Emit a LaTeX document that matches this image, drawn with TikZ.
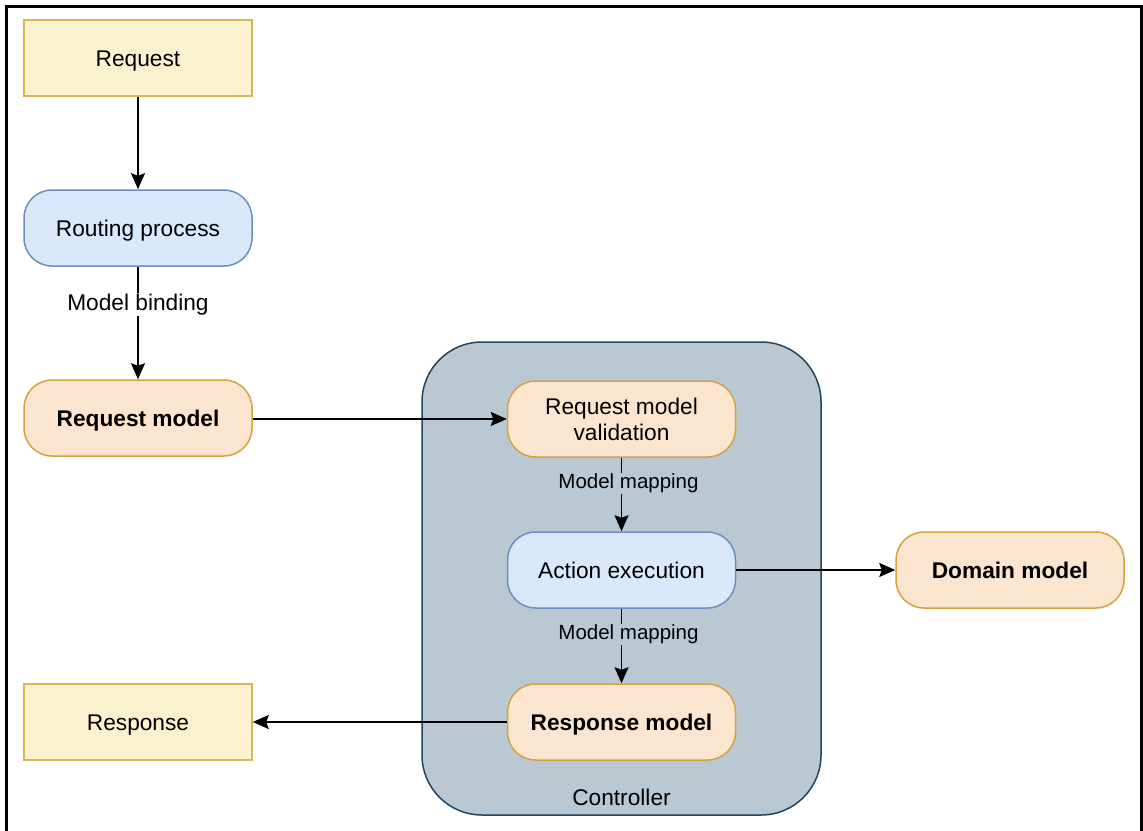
\documentclass[tikz,border=0pt]{standalone}
\usepackage{fontspec}
\setmainfont{Liberation Sans}
\usetikzlibrary{arrows.meta}
\usetikzlibrary{calc}

\definecolor{yellowfill}{HTML}{FCF1CF}
\definecolor{yellowline}{HTML}{D6B656}
\definecolor{bluefill}{HTML}{DAE8FC}
\definecolor{blueline}{HTML}{6C8EBF}
\definecolor{orangefill}{HTML}{FBE5CE}
\definecolor{orangeline}{HTML}{D6A13F}
\definecolor{ctrlfill}{HTML}{BAC8D3}
\definecolor{ctrlline}{HTML}{23445D}

\tikzset{
	box/.style = {draw, line width=1.5pt, minimum width=228pt, minimum height=76pt, align=center,
		font=\fontsize{22.7}{26}\selectfont},
	oneline/.style = {text height=22pt, text depth=5pt},
	plainbox/.style = {box, oneline, fill=yellowfill, draw=yellowline},
	bluebox/.style = {box, oneline, fill=bluefill, draw=blueline, rounded corners=28pt},
	orangebox/.style = {box, fill=orangefill, draw=orangeline, rounded corners=28pt},
	flow/.style = {line width=1.7pt, -{Stealth[length=16pt, width=14pt, inset=2.5pt]}},
	lbl/.style = {font=\fontsize{20.5}{24}\selectfont, inner sep=1pt}
}

\begin{document}
\begin{tikzpicture}[x = 1pt, y = -1pt]
	\useasboundingbox (0, 0) rectangle (1143, 830);
	\draw[line width=3pt] (6, 850) -- (6, 6) -- (1141, 6) -- (1141, 850);

	\node[draw=ctrlline, fill=ctrlfill, line width=1.5pt, rounded corners=60pt,
		minimum width=399pt, minimum height=473pt] (ctrl) at (621.5, 578.5) {};
	\node[font=\fontsize{22.7}{26}\selectfont] (ctrllabel) at (621.5, 797) {Controller};

	\node[plainbox] (request) at (138, 58) {Request};
	\node[bluebox] (routing) at (138, 228) {Routing process};
	\node[orangebox, oneline] (reqmodel) at (138, 418) {\textbf{Request model}};
	\node[orangebox] (validation) at (621.5, 419) {Request model\\validation};
	\node[bluebox] (action) at (621.5, 570) {Action execution};
	\node[orangebox, oneline] (respmodel) at (621.5, 722) {\textbf{Response model}};
	\node[orangebox, oneline] (domain) at (1010, 570) {\textbf{Domain model}};
	\node[plainbox] (response) at (138, 722) {Response};

	\draw[flow] (request) -- (routing);
	\draw[flow] (routing) -- (reqmodel)
		node [lbl, pos=0.31, yshift=-3pt, fill=white, font=\fontsize{22.7}{26}\selectfont] {Model binding};
	\draw[flow] (reqmodel.east |- validation.west) -- (validation);
	\draw[flow] (validation) -- (action) node [lbl, pos=0.32, xshift=7pt, yshift=-2pt, fill=ctrlfill] {Model mapping};
	\draw[flow] (action) -- (domain);
	\draw[flow] (action) -- (respmodel) node [lbl, pos=0.32, xshift=7pt, yshift=-2pt, fill=ctrlfill] {Model mapping};
	\draw[flow] (respmodel) -- (response);
\end{tikzpicture}
\end{document}
